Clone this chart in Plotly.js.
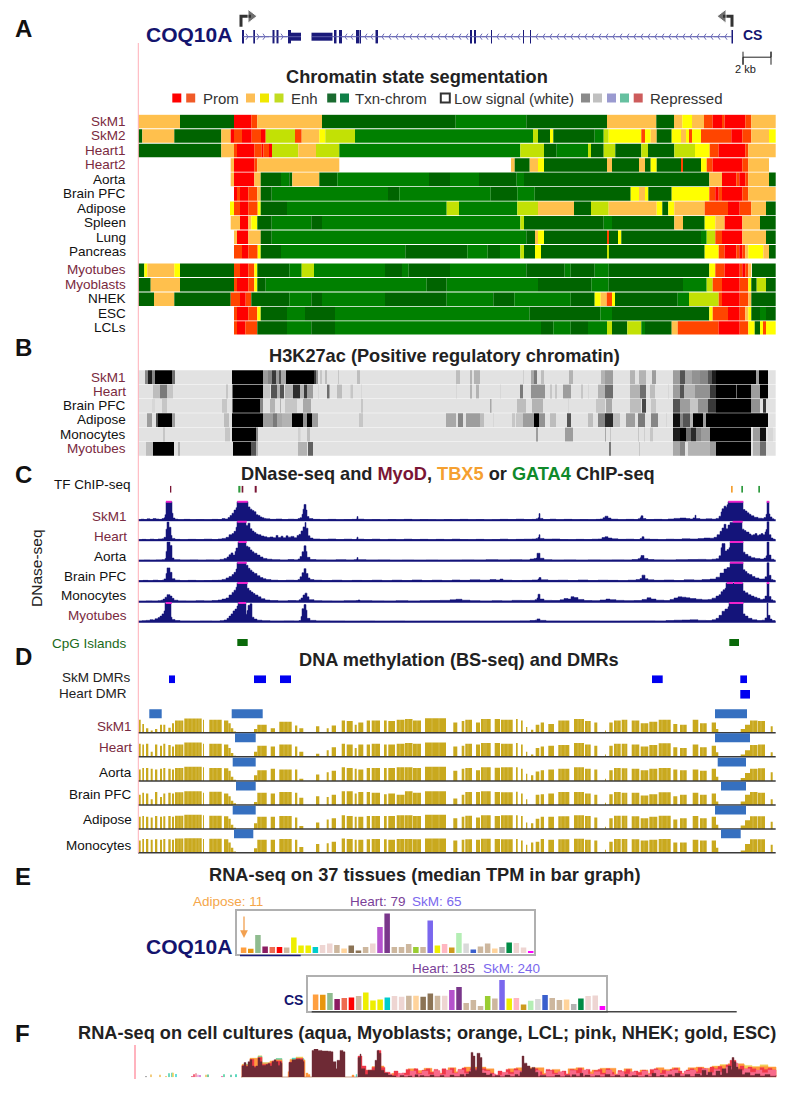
<!DOCTYPE html>
<html><head><meta charset="utf-8">
<script src="https://cdn.plot.ly/plotly-3.0.1.min.js"></script>
<style>html,body{margin:0;padding:0;background:#fff}</style></head>
<body><div id="chart" style="width:798px;height:1094px"></div>
<script>
// ---------- DATA: genome position is expressed in track units along the shared x axis ----------
const stateColors={R:'#ff0000',O:'#ff4500',A:'#ffc04d',Y:'#ffff00',L:'#c2e105',D:'#006400',G:'#008000',W:'#ffffff'};
const chromStart=138.3;
const chromLabels=['SkM1','SkM2','Heart1','Heart2','Aorta','Brain PFC','Adipose','Spleen','Lung','Pancreas','Myotubes','Myoblasts','NHEK','ESC','LCLs'];
const chromRows=[0,1,2,3,4,5,6,7,8,9,10.28,11.28,12.28,13.28,14.28];
const chromSkM1=['A',180,'D',234,'R',251.3,'O',257.3,'A',322,'D',455.7,'G',526.3,'D',607,'A',656.3,'D',674,'A',682.3,'Y',692,'A',704,'O',712.7,'R',722,'O',724.7,'R',745.3,'O',751.3,'A',775.7];
const chromSkM2=['D',142.3,'A',174.3,'D',221.3,'A',230.7,'R',234,'O',242,'R',251.7,'O',261,'R',265.7,'L',295,'O',301.7,'A',319.3,'Y',325.3,'L',355,'G',533,'L',538,'D',550,'Y',553.3,'D',594.7,'G',603.7,'L',608.7,'Y',641.3,'O',645,'Y',650.7,'A',656.7,'D',671.7,'Y',681,'A',686,'Y',689,'O',692,'Y',701,'O',731.3,'R',742.3,'O',751.3,'A',769,'Y',775.7];
const chromHeart1=['D',221.3,'A',234,'O',237,'R',254.3,'O',261.7,'R',263.3,'O',269,'R',272,'L',298.3,'A',316,'L',339.3,'G',520.3,'L',544,'D',556.7,'G',588,'L',591,'D',603.7,'L',615.3,'D',641.3,'L',648,'D',674.3,'L',695,'Y',709.7,'O',718.7,'R',745.3,'O',748.3,'A',775.7];
const chromHeart2=['W',230.7,'A',234,'R',254.3,'O',257.3,'A',339.3,'W',511,'A',514.7,'D',529.7,'A',538,'Y',544,'D',607,'A',612,'D',639,'A',645,'D',650.7,'Y',656.7,'D',681,'O',683,'D',701,'Y',706.7,'O',712.7,'R',742.3,'O',748.3,'A',769,'W',775.7];
const chromAorta=['W',230.7,'A',234,'R',254.3,'A',260.7,'D',281,'G',289.3,'D',292.3,'A',319.3,'D',337.3,'G',429,'D',450,'G',479,'D',516.7,'G',524,'D',709.3,'A',722,'R',736.3,'O',739.3,'R',745.3,'O',748.3,'A',769,'D',775.7];
const chromBrain=['W',234,'R',237,'O',240,'R',248.3,'O',257.3,'A',260.7,'D',271.7,'G',388,'D',399.3,'G',490.7,'D',517.3,'G',534.7,'D',630.7,'Y',639,'A',645,'Y',648.3,'D',671.7,'Y',709.3,'O',715.3,'R',718.7,'O',722,'R',742.3,'O',748.3,'A',775.7];
const chromAdipose=['W',230,'Y',234,'O',240,'R',248.3,'O',257.7,'Y',260.7,'D',287,'G',446.7,'L',459,'G',517.3,'L',538,'A',574,'D',591,'L',608.7,'A',656.7,'Y',662.3,'D',668.3,'Y',674.3,'A',704.7,'O',728,'R',739.7,'O',751.3,'A',766,'D',775.7];
const chromSpleen=['W',230.7,'A',240,'R',248.3,'A',251.3,'Y',257.3,'D',271.7,'G',311.3,'D',322,'G',520.3,'L',524,'D',603.7,'G',612,'D',674.3,'A',683,'D',704.7,'Y',715.3,'A',724.7,'R',742.3,'A',760,'D',775.7];
const chromLung=['W',234,'A',237,'R',248.3,'A',260.7,'D',271.7,'G',526.3,'D',535,'A',538,'Y',544,'D',607,'O',609,'D',618,'Y',621.3,'D',701,'G',706.7,'L',715.3,'O',722,'R',742.3,'A',766,'D',775.7];
const chromPancreas=['W',234,'O',242,'R',248.3,'O',257.7,'Y',260.7,'D',281,'G',405.3,'D',467.3,'G',487.7,'D',500,'G',520.3,'L',524,'D',535,'Y',541,'D',607,'L',609,'D',704.7,'Y',718.7,'O',724.7,'R',736.3,'O',739.3,'R',742.3,'O',745.3,'A',748.3,'Y',763.3,'A',769,'D',775.7];
const chromMyotubes=['D',144.3,'Y',147.3,'A',174.3,'Y',180,'D',234,'O',240,'R',248.3,'O',254.3,'Y',257.3,'D',289.3,'G',301.7,'L',314,'G',385,'D',402,'G',408.7,'D',450,'G',526.3,'D',564.7,'G',570.7,'D',594.7,'G',608.7,'D',709.3,'Y',715.3,'O',724.7,'R',739.7,'O',742.3,'R',745.3,'O',748.3,'A',751.3,'W',752,'D',775.7];
const chromMyoblasts=['D',150.7,'A',180,'D',234,'O',237,'R',248.3,'O',254.3,'Y',257.3,'D',265.7,'G',426.7,'D',446.7,'G',538,'D',591.3,'G',608.7,'D',683,'G',706.7,'L',712.7,'O',722,'R',739.7,'O',748.3,'Y',751.3,'D',756.7,'L',766,'D',775.7];
const chromNHEK=['D',154,'A',174.3,'D',230.7,'O',240,'R',245.7,'O',251.3,'D',289.3,'G',311.3,'D',322,'G',385,'D',446.7,'G',493.3,'D',514.3,'G',570.7,'D',594.7,'Y',600.7,'A',606.7,'O',612,'Y',615,'D',677.7,'G',689,'L',718.7,'O',722,'R',739.7,'O',748.3,'A',751.3,'D',775.7];
const chromESC=['W',234,'O',237,'R',248.3,'O',257.3,'Y',260.7,'D',287,'G',305,'D',335,'G',529.7,'D',600.3,'G',612,'D',709.3,'Y',712.7,'O',728,'R',739.7,'O',745.3,'A',748.3,'Y',751.3,'D',760,'G',766,'D',775.7];
const chromLCL=['W',234,'O',237,'R',245.3,'O',257.3,'D',287,'G',311.3,'D',335,'G',541,'D',553.3,'G',570.7,'D',588,'G',607,'L',612,'D',627.3,'L',641.3,'G',645,'D',671.7,'A',677.7,'O',718.7,'R',739.7,'O',748.3,'Y',754.7,'D',760,'Y',763,'O',766,'Y',775.7];
const chromTracks=[chromSkM1,chromSkM2,chromHeart1,chromHeart2,chromAorta,chromBrain,chromAdipose,chromSpleen,chromLung,chromPancreas,chromMyotubes,chromMyoblasts,chromNHEK,chromESC,chromLCL];

const h3kLabels=['SkM1','Heart','Brain PFC','Adipose','Monocytes','Myotubes'];
const h3kSkM1=[[145,148,.5],[148,152,.9],[152,155,.5],[155,172,1],[172,175,.6],[232,263,1],[263,268,.4],[268,272,.5],[272,276,.8],[276,279,.4],[279,281,.7],[281,286,.35],[286,314,1],[314,316,.8],[316,318,.45],[320,322,.2],[325,327,.25],[338,339,.2],[357,360,.25],[456,460,.25],[470,472,.3],[474,480,.3],[523,524,.15],[531,534,.35],[534,537,.55],[541,544,.25],[569,573,.3],[601,605,.3],[605,613,.4],[630,635,.3],[639,646,.3],[652,656,.4],[673,680,.4],[680,685,.7],[685,692,.35],[692,700,.45],[700,708,.5],[708,712,.7],[712,716,.9],[716,756,1],[756,759,.4],[759,768,1]];
const h3kHeart=[[153,160,.25],[160,167,.55],[167,173,.2],[226,228,.2],[232.5,263,1],[263,270,.2],[271,277,.7],[277,280,.3],[280,284,.7],[285,293,.3],[293,300,.85],[300,304,.3],[304,307,.8],[307,313,.4],[318,319,.1],[327,329.5,.6],[337,342,.25],[350.5,353,.2],[361,362,.1],[456,457,.1],[470,472,.3],[476,479,.3],[500,501,.1],[520,523,.55],[531,545,.45],[550,552,.2],[555,557,.2],[563,571,.4],[581,583,.2],[588,589,.1],[598,605,.3],[605,613,.6],[630,640,.3],[640,646,.6],[650,655,.25],[668,669,.1],[673,680,.4],[680,684,.7],[684,695,.3],[695,710,.45],[710,716,.8],[716,736,1],[736,737,.6],[737,751,1],[751,760,.4],[760,768,1]];
const h3kBrain=[[152,155,.1],[162,167,.2],[222,227,.2],[232.5,260,1],[260,263,.5],[270,275,.3],[280,281,.3],[285,297,.2],[303,311,.35],[361,363,.2],[490,491.5,.35],[517,526,.25],[532,543,.3],[568,569,.1],[596,605,.2],[606,612,.35],[630,641,.25],[642,646,.75],[651,656,.2],[673,680,.7],[680,690,.4],[690,698,.2],[698,708,.45],[708,716,.8],[716,751,1],[751,760,.45],[763,766,.8]];
const h3kAdipose=[[147,152,.4],[156,158,.7],[158,172,1],[172,175,.4],[224,229,.25],[232,263,1],[263,273,.4],[273,277,.55],[277,282,.35],[282,292,.3],[292,303,1],[303,307,.45],[307,312,1],[312,318,.4],[359,363,.2],[446,456,.35],[458,463,.5],[466,480,.4],[480,484,.25],[493,494,.1],[512,515,.2],[516,523,.2],[523,534,.4],[534,539,1],[539,545,.45],[550,556,.25],[567,571,.7],[588,593,.25],[598,605,.5],[605,613,.85],[613,620,.25],[626,635,.4],[638,645,.55],[651,658,.5],[666,667,.1],[673,680,.95],[680,683,.5],[683,690,.7],[690,693,.3],[693,703,1],[703,706,.4],[706,768,1]];
const h3kMono=[[163,165,.2],[225,230,.2],[232,256,1],[256,258,.5],[298,300.5,.15],[307,310,.25],[536,538,.4],[565,573,.4],[605,606,.35],[610,611,.2],[638,639,.2],[644,645,.15],[650,653,.2],[673,680,.9],[680,686,1],[686,691,.6],[691,696,.85],[696,701,.5],[701,710,.4],[710,751,1],[753,760,.4],[760,766,.95],[768,773,.1]];
const h3kMyotubes=[[146,153,.25],[153,174,1],[178,180,.3],[233,251,1],[251,256,.7],[256,258,.3],[298,307,.3],[308,313,.65],[609,611,.55],[639,640,.2],[673,680,.35],[680,685,.5],[688,710,.3],[710,716,.4],[716,751,1],[753,760,.3],[760,766,.6]];
const h3kTracks=[h3kSkM1,h3kHeart,h3kBrain,h3kAdipose,h3kMono,h3kMyotubes];

const dnaseLabels=['SkM1','Heart','Aorta','Brain PFC','Monocytes','Myotubes'];
const dnaseSkM1=[138,3,141,6,144,4,147,8,150,5,153,9,156,7,159,5,162,9,164,14,165,30,166,100,172,38,173,12,175,6,178,3,184,5,190,3,196,4,204,3,212,5,218,4,222,9,225,7,228,15,230,26,232,38,234,55,236,68,237,100,248,72,250,60,252,52,254,46,256,30,258,26,260,18,262,14,264,10,266,8,270,5,276,7,282,4,288,6,294,5,298,9,300,14,302,32,303,60,304,85,306,55,307,20,309,9,313,5,320,3,328,5,336,3,344,4,352,5,356,7,357,20,358,6,364,3,372,4,380,2,388,4,396,3,404,5,412,2,420,4,428,3,436,2,444,4,452,3,460,5,468,3,476,4,484,2,492,3,500,5,508,4,516,6,524,4,532,5,536,8,538,14,539,36,540,10,543,4,550,6,556,3,564,5,572,3,580,4,588,3,596,5,600,7,603,14,605,22,608,12,611,6,618,3,626,5,634,4,638,8,640,14,641,24,643,9,646,4,654,5,662,3,668,7,674,10,680,12,686,9,690,7,693,13,695,27,696,9,700,6,706,8,712,6,716,10,719,22,721,45,722,62,724,76,726,70,727,84,728,100,743,58,745,50,747,40,749,32,751,24,754,16,758,11,762,10,764,15,766,32,767,100,769,34,770,18,772,8,774,3];
const dnaseHeart=[138,3,142,5,146,3,150,6,154,4,158,7,162,8,164,16,166,60,167,98,169,70,171,26,172,10,175,5,180,3,188,5,196,4,204,6,212,4,218,7,222,10,226,16,229,30,232,36,234,48,236,70,237,100,246,80,248,92,250,62,252,50,254,42,256,34,258,30,261,23,264,19,267,15,270,18,273,14,276,26,278,15,281,22,283,14,286,24,288,17,291,21,294,14,297,26,299,32,301,50,303,72,305,96,306,65,308,24,310,12,313,7,320,5,328,7,336,4,344,6,352,4,356,7,357,17,358,6,364,4,372,6,380,3,388,5,396,3,404,6,412,4,420,5,428,3,436,5,444,3,452,6,460,4,468,3,476,5,484,3,492,4,500,6,508,3,516,5,524,6,532,7,536,10,538,16,539,30,540,10,544,6,552,7,560,4,568,3,576,5,584,4,592,6,598,7,602,15,605,19,608,12,612,8,618,5,626,6,634,4,640,9,642,19,644,7,650,5,658,3,666,6,674,5,682,8,690,7,698,9,704,12,710,11,714,16,717,30,720,48,722,66,724,86,726,62,728,82,730,96,733,100,742,60,744,52,746,44,749,34,751,27,753,30,755,36,757,26,759,30,761,36,763,30,765,45,766,58,767,100,769,30,771,12,773,6,775,3];
const dnaseAorta=[138,2,144,3,150,2,156,4,162,5,165,12,166,50,167,100,170,82,172,14,174,5,180,3,190,4,198,2,206,4,214,3,220,7,224,12,227,20,229,32,231,42,233,30,235,50,236,68,238,100,246,78,248,72,250,58,252,48,254,40,257,30,260,20,263,12,267,8,272,5,280,3,288,6,294,4,298,9,300,22,302,48,304,80,306,50,307,18,310,6,316,4,326,3,336,5,346,3,354,5,356,7,357,17,358,5,366,3,378,4,390,2,402,3,414,2,426,3,438,2,450,3,462,4,474,3,486,5,498,4,510,5,522,4,530,9,534,12,536,14,537,40,540,13,544,5,552,3,564,4,576,2,588,4,600,3,612,4,624,3,632,6,638,11,640,16,641,28,644,12,648,6,654,4,664,3,676,5,688,6,698,7,706,5,712,8,716,11,719,26,721,70,722,92,725,52,727,60,729,70,730,100,743,46,745,34,748,24,751,16,755,12,760,9,764,14,766,26,767,100,769,30,771,8,774,3];
const dnaseBrain=[138,3,143,5,148,3,153,6,158,4,162,6,164,13,166,42,167,72,170,48,172,14,175,6,180,3,188,5,196,3,204,4,212,5,218,6,222,10,226,18,229,26,232,36,234,48,236,66,237,100,246,86,248,70,250,60,252,50,254,42,257,30,260,20,263,14,266,9,271,6,278,4,286,6,294,5,298,10,300,24,302,46,304,68,306,42,308,18,310,9,314,6,322,4,332,6,342,3,352,5,362,4,372,6,382,3,392,6,402,4,412,7,422,4,432,6,442,3,452,7,460,5,470,8,480,6,490,9,496,7,500,12,503,6,512,4,522,5,532,7,538,12,539,20,541,8,548,5,558,6,568,4,578,7,588,4,598,6,608,5,618,3,628,6,636,9,640,15,642,33,645,14,648,8,654,5,664,7,674,4,684,8,694,6,702,9,710,12,716,22,720,44,724,66,727,74,730,100,743,62,745,52,747,42,749,36,752,26,755,18,759,12,763,13,765,24,767,100,769,32,771,10,773,6,775,3];
const dnaseMono=[138,2,146,4,152,3,158,5,161,8,163,14,165,24,167,38,170,30,172,18,174,8,178,4,186,3,196,5,204,4,212,6,218,9,222,14,226,20,229,36,232,50,234,62,236,78,237,100,247,72,249,60,251,52,253,44,255,36,258,26,261,16,265,9,270,6,278,4,288,6,296,5,299,10,301,20,303,36,305,46,307,26,309,11,314,5,322,4,332,3,344,5,356,6,358,9,360,5,372,4,384,3,396,5,408,3,420,5,430,6,440,7,450,10,456,13,462,8,470,5,480,3,492,5,502,4,512,7,522,6,530,7,535,11,537,20,538,40,540,14,544,7,552,6,560,10,564,17,568,14,571,27,574,22,578,12,584,6,592,5,600,9,606,14,610,11,616,7,624,5,634,6,642,12,647,21,651,14,656,8,664,6,670,12,674,20,678,26,682,24,686,21,690,17,696,13,702,10,708,12,712,19,716,30,719,38,721,54,723,64,725,72,726,100,743,58,745,48,748,38,751,30,754,24,757,18,760,12,763,15,765,30,767,100,769,28,771,10,773,5,775,3];
const dnaseMyotubes=[138,3,142,5,146,7,150,11,153,9,155,16,158,22,160,30,162,42,164,58,165,100,171,24,172,12,175,6,180,3,190,2,200,3,212,2,220,5,224,9,227,18,229,30,231,42,233,58,235,68,237,84,238,100,246,40,247,60,248,88,250,96,252,24,254,14,257,8,262,5,270,3,284,4,294,3,299,6,301,28,302,70,304,92,306,62,307,18,310,7,316,4,330,3,345,2,360,3,375,2,390,3,405,2,420,3,440,2,460,3,480,2,500,3,520,4,530,6,535,8,537,15,540,7,546,3,560,2,580,3,600,2,620,3,640,4,655,3,666,6,674,8,682,9,690,10,698,7,706,6,712,10,716,18,719,34,722,56,725,68,728,80,729,100,743,42,745,30,748,18,752,10,757,6,762,8,765,20,767,100,768,34,770,14,772,6,775,2];
const dnaseTracks=[dnaseSkM1,dnaseHeart,dnaseAorta,dnaseBrain,dnaseMono,dnaseMyotubes];
const dnaseCapsSkM1=[166,171.7,237.3,247.7,728.3,743.3,766.7,769.3];
const dnaseCapsHeart=[237.3,246.7,732.7,742.7];
const dnaseCapsAorta=[238.3,246.7,730,743.3];
const dnaseCapsBrain=[237.3,246.7,730,743.3];
const dnaseCapsMono=[237.3,247.7,726.7,733,734,742.7,766.7,769.3];
const dnaseCapsMyotubes=[165.7,171.7,238.3,246,729.3,743.3];
const dnaseCaps=[dnaseCapsSkM1,dnaseCapsHeart,dnaseCapsAorta,dnaseCapsBrain,dnaseCapsMono,dnaseCapsMyotubes];

const tfPeakStart=[170,238.3,240.2,241.7,254.7,731,741.3,758.3];
const tfPeakEnd=[171.3,240,241.2,243.3,256.7,732.7,743,760];
const tfPeakColor=['#7a1535','#2e9a3e','#8fd08f','#7a1535','#7a1535','#f5a030','#2e9a3e','#2e9a3e'];
const cpgStart=[237.3,729.3], cpgEnd=[247.7,739];
const dmrSkMStart=[169,254,280,652,740.3], dmrSkMEnd=[175,266,291,662.7,747];
const dmrHeartStart=[740.3], dmrHeartEnd=[750];

const methLabels=['SkM1','Heart','Aorta','Brain PFC','Adipose','Monocytes'];
const cpgBlockStart=[139,142.3,146,150.7,155,160,163.3,168.3,172,175,184.3,203,209.3,224,228.3,230.7,233.3,254,257.3,270.7,279.3,295,299.3,316,326.7,331.7,341.7,346.7,354.7,358.3,366.7,371.7,384,388.3,396.7,405,413,425,453.3,461.7,465.3,476,481,494.7,501,516,521,526,531,535.7,540.7,548.3,558.3,574,585,594.3,605,609.3,614,621.7,631.7,640.7,649.3,658.7,673.3,680,692.7,700,711.7,716,740.7,745,750,758,770.7];
const cpgBlockEnd=[140.7,144,148.3,152.7,157.3,162,165.3,170.7,174,183.3,201.7,204,221.7,228.3,230.7,233.3,236,257.3,266.7,275,291.7,297.3,303.3,319.3,328.7,336,345,352.7,356.7,363.3,370,380,386.7,395,404.5,412.5,421,446,457.3,464.3,472,480,490.7,500,512.7,517.7,522.7,527.3,533.3,539.3,544,554,569.3,584,590.7,597.3,606,612.7,620.7,627.3,639.3,648.3,657.3,670.7,677.3,686.7,698.3,706.7,716,718.3,745,750,757.5,765,772.7];
const cpgGaps=[178,181,188,192,196,199,213,217,261,284,288,375,400,408,417,432,439,468,484,486,504,508,561,565,578,581,588,617,625,635,644,653,662,667,683,703,753,761];
const methSkM1=[90,60,30,15,25,55,55,35,65,85,98,90,90,85,65,30,8,25,55,30,75,50,30,45,30,50,85,80,55,70,85,85,85,80,90,95,85,100,70,80,90,70,95,95,90,95,85,40,20,55,70,60,85,95,80,70,15,70,85,90,85,65,75,90,60,55,90,65,70,25,25,55,85,80,45];
const methHeart=[90,85,90,35,85,75,90,80,70,85,98,90,90,85,60,25,6,35,75,70,85,70,35,20,45,65,90,85,60,85,85,90,85,85,90,95,90,98,70,75,90,85,95,95,90,95,85,35,15,60,70,75,80,95,85,75,15,75,90,90,85,70,80,92,65,60,85,65,75,30,15,45,80,85,30];
const methAorta=[80,90,90,85,80,85,90,85,80,90,98,95,90,88,70,30,8,40,75,85,80,80,15,45,60,70,95,90,85,80,90,90,90,90,95,95,90,98,70,85,90,75,95,92,95,95,85,50,40,65,75,80,85,95,85,80,15,75,90,88,85,75,85,90,80,75,80,70,85,30,20,55,85,88,60];
const methBrain=[70,85,80,40,90,55,80,85,80,88,95,85,92,80,60,30,12,20,85,80,90,85,50,60,55,70,95,95,80,90,90,85,75,80,70,95,85,95,45,70,90,90,95,90,88,92,80,40,0,70,75,80,90,90,80,70,15,75,90,85,85,65,75,88,60,70,85,70,80,25,25,70,90,85,40];
const methAdipose=[85,90,85,80,90,85,88,90,85,92,98,95,92,88,70,30,8,40,85,85,90,80,20,45,65,75,95,90,85,85,90,90,90,90,95,95,90,98,75,85,92,80,95,90,95,95,90,45,40,70,85,85,88,95,90,80,15,75,92,92,88,75,85,92,65,75,90,75,85,30,25,60,88,88,50];
const methMono=[85,95,95,90,92,90,95,92,90,98,100,95,96,92,70,35,8,30,90,90,95,90,40,60,65,75,98,95,90,90,92,95,92,90,95,95,92,98,85,90,92,90,96,95,92,95,85,55,70,75,95,90,92,96,90,85,20,75,95,95,92,85,90,95,70,70,90,85,85,35,15,60,92,92,55];
const methTracks=[methSkM1,methHeart,methAorta,methBrain,methAdipose,methMono];
const hypoStart=[[149.3,231.7,715],[235,715],[232.7,717.7],[236,721],[232.7,715],[234,721]];
const hypoEnd=[[161.7,262.7,747],[255.7,750],[255.7,746],[255.7,746],[255.7,746],[253.3,740.7]];

const exprColors=['#ff9f3f','#e8960e','#8fbc8f','#8b1c62','#ee6a50','#ff0000','#cdb79e','#eeee00','#eeee00','#eeee00','#00cdcd','#eed5d2','#eed5d2','#cdb79e','#ffd39b','#8b7355','#8b7355','#cdb79e','#eed5d2','#b452cd','#7a378b','#cdb79e','#cdb79e','#cdb79e','#9acd32','#cdb79e','#7a67ee','#eeee00','#ffb6c1','#cd9b1d','#b4eeb4','#d9d9d9','#3a5fcd','#cdb79e','#cdb79e','#ffd39b','#b3b3b3','#008b45','#eed5d2','#eed5d2','#ff00ff'];
const exprCOQ10A=[11,8.5,36,13,12,12,11,31,15,15,12,16,19,16,9,15,5,12,19,52,79,12,12,18,12,12,65,15,18,11,40,19,7,13,19,9,12,21,20,11,4];
const exprCS=[125,123,136,88,96,101,112,141,77,85,101,112,107,115,115,107,133,115,115,160,184,56,80,32,112,93,240,93,96,45,75,88,120,96,80,85,48,93,112,117,32];

const geneLineX=[[243,301],[312,732]];
const exonTallStart=[242,253.3,272.5,276.5,288,334,339,356,359.5,375.5,470,474,491,523,530,731.5];
const exonTallEnd=[244,255,274.5,278.5,291,336.5,342,359,361,378,472,476,492,524,531,733];
const exonThickStart=[291,311.5], exonThickEnd=[301,332.5];
const chevronsRight=[248,259,265,283];
const chevronsLeft=[345,351,365,371,382,389,396,403,410,417,424,431,438,445,452,459,466,480,486,497,504,511,518,536,543,550,557,564,571,578,585,592,599,606,613,620,627,634,641,648,655,662,669,676,683,690,697,704,711,718,725];

const legendX=[176.8,190.7,250.5,264.5,279,331.7,344.5,445.3,585.5,597.5,611.5,624.5,638.2];
const legendColor=['#ff0000','#f05a28','#fdbe55','#f0e800','#c2dc20','#1a6b30','#108048','#ffffff','#8a8a8a','#c0c0c0','#9a9ad0','#66c0a0','#cd5c5c'];

const rnaMaroon=[241,0,242,40,244,52,246,38,248,55,250,62,252,40,254,35,256,40,258,68,260,55,262,42,264,42,266,45,268,48,270,40,272,55,274,62,276,55,278,42,280,55,281,50,282,0,288,0,289,52,292,62,296,64,300,62,303,55,304,0,311,0,312,95,314,100,318,95,322,93,328,92,331,90,333,55,336,30,337,60,340,95,343,90,345,0,357,0,358,70,360,82,361,30,363,30,365,10,368,25,372,25,375,60,377,95,379,85,381,25,384,15,388,8,392,5,396,0,400,6,404,2,408,5,412,0,415,9,418,2,420,6,424,3,430,8,434,2,440,6,444,1,450,8,454,3,460,10,464,4,466,12,469,20,471,88,473,75,475,25,477,85,480,70,482,15,486,8,490,12,492,3,495,6,500,2,505,8,510,3,515,10,518,5,520,18,522,75,524,50,527,40,530,30,532,35,535,18,538,3,540,6,546,2,555,8,560,2,565,6,570,2,572,9,576,4,580,14,583,3,585,8,590,2,595,6,600,2,605,10,610,3,615,7,620,2,625,10,628,3,632,6,638,2,645,8,648,3,652,14,656,3,660,7,664,2,668,9,672,4,675,14,680,4,685,10,690,3,695,12,700,6,702,25,706,8,708,18,712,6,716,22,720,8,722,30,726,14,728,40,731,28,732,70,734,55,736,36,738,28,742,10,745,16,750,6,755,12,760,5,765,10,770,4,776,8];
const rnaPink=[386,12,392,4,398,14,404,8,410,22,416,12,422,22,428,10,434,24,440,10,446,26,452,14,458,26,464,14,470,26,484,22,490,12,496,8,502,18,508,12,514,24,520,20,536,24,540,8,546,22,552,12,558,20,564,8,570,24,576,14,582,26,588,12,594,20,600,10,606,26,612,10,618,20,624,12,630,20,636,8,642,22,648,10,654,26,660,12,666,22,672,26,678,12,684,22,690,26,696,14,702,30,708,16,714,28,720,18,726,36,732,50,738,24,744,30,750,18,756,26,762,16,768,26,776,0];
const rnaRed=[241,0,242,42,246,40,250,64,254,38,258,70,262,45,268,50,272,58,276,58,280,56,282,0,288,0,289,54,296,66,303,58,304,0,357,0,358,75,362,40,366,25,372,35,378,95,381,35,385,18,390,8,394,22,398,5,402,15,406,28,410,20,414,30,418,14,422,25,426,30,430,18,434,28,438,12,442,30,446,22,450,32,454,15,458,28,462,33,466,20,470,30,486,25,490,15,494,8,498,22,502,12,506,28,510,18,514,30,518,22,535,30,538,20,542,10,546,28,550,25,554,15,558,8,562,22,566,12,570,28,574,25,578,32,582,18,586,28,590,10,594,24,598,28,602,15,606,30,610,18,614,8,618,24,622,20,626,28,630,12,634,22,638,18,642,25,646,8,650,28,654,30,658,15,662,25,666,12,670,28,674,32,678,22,682,10,686,26,690,30,694,20,698,34,702,30,706,18,710,36,714,30,718,38,722,26,726,44,730,60,736,30,740,40,744,26,748,36,752,30,756,22,760,34,764,28,768,32,772,26,776,0];
const rnaOrange=[241,0,242,44,250,66,258,72,262,50,270,56,276,62,282,0,286,0,288,20,290,62,296,68,303,60,305,0,306,15,308,10,310,0,350,0,352,8,354,0,360,0,365,25,372,38,380,40,384,12,392,14,400,10,408,30,416,24,424,32,432,20,440,14,448,34,456,20,464,36,486,30,494,6,500,16,508,30,516,34,536,34,544,14,552,28,560,10,568,30,576,34,584,20,592,26,600,32,608,32,616,12,624,30,632,14,640,26,648,14,656,34,664,28,672,34,680,14,688,34,696,36,704,32,712,38,720,42,728,48,744,32,752,36,760,38,768,36,776,0];
const rnaGold=[241,0,242,46,250,68,258,76,262,52,270,58,276,66,282,0,288,0,290,64,296,72,303,62,305,0,700,0,705,24,712,40,720,45,726,32,734,44,745,42,752,38,760,44,768,36,776,0];
const rnaAqua=[241,0,244,46,258,74,262,50,276,66,282,0,288,0,292,68,300,66,304,0,355,0,356,10,357,0];
const rnaDotX=[146,151,160,166,169,172,173,176,192,194,196,198,200,206,208,222,224,231,236];
const rnaDotV=[3,10,9,5,14,16,16,12,5,11,14,9,8,9,10,5,11,9,11];
const rnaDotColor=['#333333','#f0c060','#f0c060','#f0c060','#50d0b0','#50d0b0','#f0d060','#40d8d8','#e06080','#f04060','#f090a0','#e8a0e0','#d070d0','#f0c060','#50c090','#f060a0','#50d0a0','#50c0a0','#30d0b0'];

// ---------- BUILD ----------
const W=798,H=1094;
const data=[],layout={width:W,height:H,margin:{l:0,r:0,t:0,b:0},paper_bgcolor:'#fff',plot_bgcolor:'rgba(0,0,0,0)',barmode:'overlay',showlegend:false,hovermode:false,
 xaxis:{domain:[0,1],range:[0,W],visible:false,fixedrange:true,anchor:'y'},annotations:[],shapes:[]};
let yCount=0,xCount=1;
function addY(top,bot,range,extra){yCount++;const nm=yCount===1?'yaxis':'yaxis'+yCount;
 layout[nm]=Object.assign({domain:[1-bot/H,1-top/H],range:range,visible:false,fixedrange:true,anchor:'x'},extra||{});
 return yCount===1?'y':'y'+yCount;}
function pairs(a){const x=[],y=[];for(let i=0;i<a.length;i+=2){x.push(a[i]);y.push(a[i+1]);}return{x,y};}
function lab(t,x,y,o){o=o||{};layout.annotations.push({text:o.bold?'<b>'+t+'</b>':t,x:x/W,y:1-y/H,xref:'paper',yref:'paper',xanchor:o.anchor||'right',yanchor:'middle',showarrow:false,borderpad:0,textangle:o.angle||0,
 font:{family:'"Liberation Sans",Arial,sans-serif',size:o.size||13.5,color:o.color||'#222'}});}
const maroon='#7a2a40';
const isMaroon=n=>/SkM|Heart|Myotubes|Myoblasts/.test(n);
const baseTr=o=>Object.assign({hoverinfo:'skip',xaxis:'x'},o);
const TITLE=18.2;

// gene track
const yGene=addY(10,70,[-33.3,26.7]);
geneLineX.forEach(s=>data.push(baseTr({type:'scatter',mode:'lines',x:s,y:[0,0],yaxis:yGene,line:{color:'#5a5aa8',width:1}})));
data.push(baseTr({type:'scatter',mode:'markers',x:chevronsLeft,y:chevronsLeft.map(()=>0),yaxis:yGene,marker:{symbol:'y-left-open',size:5,color:'#6a6ab8',line:{width:1,color:'#6a6ab8'}}}));
data.push(baseTr({type:'scatter',mode:'markers',x:chevronsRight,y:chevronsRight.map(()=>0),yaxis:yGene,marker:{symbol:'y-right-open',size:5,color:'#6a6ab8',line:{width:1,color:'#6a6ab8'}}}));
const hbar=(st,en,half,yax,col)=>baseTr({type:'bar',x:st.map((s,i)=>(s+en[i])/2),width:st.map((s,i)=>en[i]-s),y:st.map(()=>2*half),base:st.map(()=>-half),yaxis:yax,marker:{color:col,line:{width:0}}});
data.push(hbar(exonTallStart,exonTallEnd,6.7,yGene,'#1a1a7a'));
data.push(hbar(exonThickStart,exonThickEnd,4,yGene,'#1a1a7a'));
data.push(baseTr({type:'scatter',mode:'lines+markers',x:[241,241,251],y:[10,20.5,20.5],yaxis:yGene,line:{color:'#333',width:3},marker:{size:[0,0,12],symbol:'triangle-right',color:'#333'}}));
data.push(baseTr({type:'scatter',mode:'lines+markers',x:[732,732,723],y:[10,20.5,20.5],yaxis:yGene,line:{color:'#333',width:3},marker:{size:[0,0,12],symbol:'triangle-left',color:'#333'}}));
data.push(baseTr({type:'scatter',mode:'lines',x:[743,743,743,771,771,771],y:[-15,-28,-20.5,-20.5,-15,-28],yaxis:yGene,line:{color:'#222',width:1}}));

// legend swatches
const yLeg=addY(90,106,[-1,1]);
data.push(baseTr({type:'scatter',mode:'markers',x:legendX,y:legendX.map(()=>0),yaxis:yLeg,marker:{symbol:'square',size:9,color:legendColor,line:{width:legendColor.map(c=>c==='#ffffff'?2:0),color:'#333'}}}));

// chromatin states
const yChrom=addY(114.3,334.5,[15.22,0].map(v=>v-0.5));
{const xs=[],b=[],ys=[],c=[];
 chromTracks.forEach((t,r)=>{let s=chromStart;for(let i=0;i<t.length;i+=2){if(t[i]!=='W'){xs.push(t[i+1]-s);b.push(s);ys.push(chromRows[r]);c.push(stateColors[t[i]]);}s=t[i+1];}});
 data.push(baseTr({type:'bar',orientation:'h',x:xs,base:b,y:ys,width:0.94,yaxis:yChrom,marker:{color:c,line:{width:0}}}));}
chromLabels.forEach((n,i)=>lab(n,127,114.3+14.44*(chromRows[i]+.5),{color:isMaroon(n)?maroon:'#111'}));

// H3K27ac
const yH=addY(370,456,[5.5,-.5]);
const gray=v=>{const g=Math.round(226*(1-Math.pow(v,1.3)));return `rgb(${g},${g},${g})`;};
{const xs=[],b=[],ys=[],c=[];
 h3kTracks.forEach((t,r)=>{xs.push(775.7-138.3);b.push(138.3);ys.push(r);c.push(gray(0));
  t.forEach(s=>{xs.push(s[1]-s[0]);b.push(s[0]);ys.push(r);c.push(gray(s[2]));});});
 data.push(baseTr({type:'bar',orientation:'h',x:xs,base:b,y:ys,width:0.96,yaxis:yH,marker:{color:c,line:{width:0}}}));}
h3kLabels.forEach((n,i)=>lab(n,127,377+14.33*i,{color:isMaroon(n)?maroon:'#111'}));

// TF marks, CpG islands, DMRs
const yTF=addY(485.7,492.7,[0,1]);
data.push(baseTr({type:'bar',x:tfPeakStart.map((s,i)=>(s+tfPeakEnd[i])/2),width:tfPeakStart.map((s,i)=>tfPeakEnd[i]-s),y:tfPeakStart.map(()=>1),yaxis:yTF,marker:{color:tfPeakColor,line:{width:0}}}));
const yCpG=addY(639,646,[0,1]);
data.push(baseTr({type:'bar',x:cpgStart.map((s,i)=>(s+cpgEnd[i])/2),width:cpgStart.map((s,i)=>cpgEnd[i]-s),y:cpgStart.map(()=>1),yaxis:yCpG,marker:{color:'#0a6a0a',line:{width:0}}}));
const yD1=addY(675.3,683.3,[0,1]),yD2=addY(690,698.7,[0,1]);
data.push(baseTr({type:'bar',x:dmrSkMStart.map((s,i)=>(s+dmrSkMEnd[i])/2),width:dmrSkMStart.map((s,i)=>dmrSkMEnd[i]-s),y:dmrSkMStart.map(()=>1),yaxis:yD1,marker:{color:'#0000f0',line:{width:0}}}));
data.push(baseTr({type:'bar',x:dmrHeartStart.map((s,i)=>(s+dmrHeartEnd[i])/2),width:dmrHeartStart.map((s,i)=>dmrHeartEnd[i]-s),y:[1],yaxis:yD2,marker:{color:'#0000f0',line:{width:0}}}));

// DNase tracks
const dnaseBase=[520.3,540.3,560.7,581.3,601.7,621.7];
const dnaseLabelY=[516.7,536.7,556.7,576,595.7,615.7];
dnaseTracks.forEach((t,i)=>{
 const ax=addY(dnaseBase[i]-20,dnaseBase[i]+1.5,[-8.1,107.5]);const p=pairs(t);
 data.push(baseTr({type:'scatter',mode:'lines',x:p.x,y:p.y,yaxis:ax,fill:'tozeroy',fillcolor:'#14147a',line:{color:'#14147a',width:.5,shape:'hv'}}));
 data.push(baseTr({type:'scatter',mode:'lines',x:[138,775.7],y:[0,0],yaxis:ax,line:{color:'#14147a',width:2}}));
 const cx=[],cy=[];for(let k=0;k<dnaseCaps[i].length;k+=2){cx.push(dnaseCaps[i][k],dnaseCaps[i][k+1],null);cy.push(100,100,null);}
 data.push(baseTr({type:'scatter',mode:'lines',x:cx,y:cy,yaxis:ax,line:{color:'#ee22cc',width:2}}));
 lab(dnaseLabels[i],127.7,dnaseLabelY[i],{color:isMaroon(dnaseLabels[i])?maroon:'#111'});
});

// methylation tracks
const methBase=[732.7,756.7,781,805,829,852.7];
const methLabelY=[726,747,772.3,794.3,819.7,845];
const blockX=cpgBlockStart.map((s,i)=>(s+cpgBlockEnd[i])/2),blockW=cpgBlockStart.map((s,i)=>cpgBlockEnd[i]-s);
methTracks.forEach((t,i)=>{
 const ax=addY(methBase[i]-24,methBase[i]+1.5,[-10.3,165.5]);
 data.push(baseTr({type:'bar',x:blockX,width:blockW,y:t,yaxis:ax,marker:{color:'#c9a91e',line:{width:0}}}));
 data.push(baseTr({type:'bar',x:cpgGaps,width:.5,y:cpgGaps.map(()=>100),yaxis:ax,marker:{color:'#ffffff',opacity:.4,line:{width:0}}}));
 data.push(baseTr({type:'scatter',mode:'lines',x:[138,775.7],y:[0,0],yaxis:ax,line:{color:'#3a3a3a',width:1.5}}));
 const st=hypoStart[i],en=hypoEnd[i];
 data.push(baseTr({type:'bar',x:st.map((s,k)=>(s+en[k])/2),width:st.map((s,k)=>en[k]-s),y:st.map(()=>61),base:st.map(()=>100),yaxis:ax,marker:{color:'#3670c0',line:{width:0}}}));
 lab(methLabels[i],133,methLabelY[i],{color:isMaroon(methLabels[i])?maroon:'#111'});
});

// expression bar graphs
function exprPanel(vals,left,right,top,bot,xr,yr){
 xCount++;yCount++;const xn='x'+xCount,yn='y'+yCount;
 const frame={visible:true,showgrid:false,zeroline:false,showticklabels:false,ticks:'',showline:true,mirror:true,linecolor:'#b0b0b0',linewidth:2,fixedrange:true};
 layout['xaxis'+xCount]=Object.assign({domain:[left/W,right/W],range:xr,anchor:yn},frame);
 layout['yaxis'+yCount]=Object.assign({domain:[1-bot/H,1-top/H],range:yr,anchor:xn},frame);
 data.push({type:'bar',x:vals.map((v,i)=>i),y:vals,width:.77,xaxis:xn,yaxis:yn,hoverinfo:'skip',marker:{color:exprColors,line:{width:0}}});
}
exprPanel(exprCOQ10A,236.7,534.3,910.7,954.3,[-.96,40.5],[-2.6,84.6]);
exprPanel(exprCS,308.3,606,977.3,1010.5,[-1.02,40.5],[-4,262]);

// RNA-seq cell cultures
const yR=addY(1049,1077.3,[0,100]);
[[rnaGold,'#f2cf5a'],[rnaAqua,'#50d8c0'],[rnaOrange,'#ff9a3c'],[rnaRed,'#f03848'],[rnaPink,'#f86a8a'],[rnaMaroon,'#6e2a35']].forEach(l=>{
 const p=pairs(l[0]);data.push(baseTr({type:'scatter',mode:'lines',x:p.x,y:p.y,yaxis:yR,fill:'tozeroy',fillcolor:l[1],line:{color:l[1],width:.4,shape:'hv'}}));});
data.push(baseTr({type:'bar',x:rnaDotX,y:rnaDotV,width:1.6,yaxis:yR,marker:{color:rnaDotColor,line:{width:0}}}));

// rules
const rule=(x0,y0,x1,y1,c,w)=>layout.shapes.push({type:'line',xref:'x',yref:'paper',x0,x1,y0:1-y0/H,y1:1-y1/H,line:{color:c,width:w}});
rule(138.3,43,138.3,853,'#ffb0b8',1);
rule(135,1045,135,1079,'#ff9aa8',1.5);
rule(240,955.5,300.7,955.5,'#1a1a7a',1.5);
rule(311.7,1011.7,736.7,1011.7,'#444',1.5);

// arrow in COQ10A panel
layout.annotations.push({x:244/W,y:1-938/H,xref:'paper',yref:'paper',ax:244/W,ay:1-915/H,axref:'paper',ayref:'paper',text:'',showarrow:true,arrowhead:2,arrowsize:1.2,arrowwidth:1.3,arrowcolor:'#f2a050'});

// texts
const panel=(t,y)=>lab(t,14,y,{anchor:'left',bold:true,size:24,color:'#111'});
panel('A',28);panel('B',348);panel('C',474);panel('D',656);panel('E',876);panel('F',1033);
lab('COQ10A',145,35,{anchor:'left',bold:true,size:21,color:'#14146e'});
lab('CS',742,35,{anchor:'left',bold:true,size:14,color:'#14146e'});
lab('2 kb',757,69,{anchor:'middle',size:11,color:'#222'});
lab('Chromatin state segmentation',417,77,{anchor:'middle',bold:true,size:TITLE});
[['Prom',201.5],['Enh',290],['Txn-chrom',354],['Low signal (white)',453],['Repressed',649]].forEach(a=>lab(a[0],a[1],98,{anchor:'left',size:15,color:'#333'}));
lab('H3K27ac (Positive regulatory chromatin)',444,356,{anchor:'middle',bold:true,size:TITLE});
lab('DNase-seq and <span style="color:#7a1535">MyoD</span>, <span style="color:#f5a030">TBX5</span> or <span style="color:#0f8a2a">GATA4</span> ChIP-seq',448,474,{anchor:'middle',bold:true,size:TITLE});
lab('TF ChIP-seq',131.7,485,{color:'#111'});
lab('DNase-seq',37,568,{anchor:'center',angle:-90,size:15.5,color:'#222'});
lab('CpG Islands',127.7,643,{color:'#1a6a1a'});
lab('DNA methylation (BS-seq) and DMRs',459,660,{anchor:'middle',bold:true,size:TITLE});
lab('SkM DMRs',131,677,{color:'#222'});
lab('Heart DMR',128,693,{color:'#222'});
lab('RNA-seq on 37 tissues (median TPM in bar graph)',425,875,{anchor:'middle',bold:true,size:TITLE});
lab('Adipose: 11',192,901,{anchor:'left',size:13.5,color:'#f5a64a'});
lab('Heart: 79',349,901,{anchor:'left',size:13.5,color:'#7a3f98'});
lab('SkM: 65',411,901,{anchor:'left',size:13.5,color:'#7b68ee'});
lab('COQ10A',145,946,{anchor:'left',bold:true,size:21,color:'#14146e'});
lab('Heart: 185',411,968,{anchor:'left',size:13.5,color:'#7a3f98'});
lab('SkM: 240',482,968,{anchor:'left',size:13.5,color:'#7b68ee'});
lab('CS',283,1000,{anchor:'left',bold:true,size:14,color:'#14146e'});
lab('RNA-seq on cell cultures (aqua, Myoblasts; orange, LCL; pink, NHEK; gold, ESC)',427,1033,{anchor:'middle',bold:true,size:TITLE});

Plotly.newPlot('chart',data,layout,{displayModeBar:false,staticPlot:true});
</script></body></html>
